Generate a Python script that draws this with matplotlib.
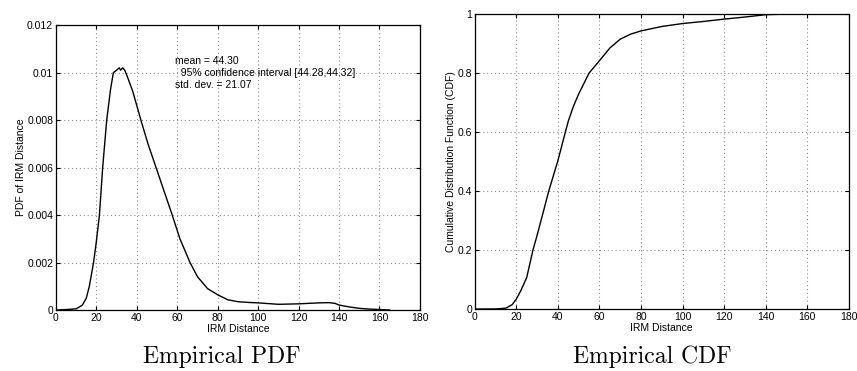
import matplotlib
matplotlib.use("Agg")
import matplotlib.pyplot as plt

# PDF values
pdf_x = [0, 5, 10, 13, 15, 16.5, 18.6, 20, 21.5, 23.1, 25.1, 27, 28.4, 30, 31.3, 32, 33, 34,
         35, 38, 40, 42, 45.5, 49.5, 53.5, 57.5, 61.3, 66.3, 70, 75, 80, 85, 90, 95, 100,
         105, 110, 115, 120, 125, 130, 135, 138, 140, 145, 150, 155, 160, 165]
pdf_y = [0, 0.00002, 0.00005, 0.0002, 0.0005, 0.001, 0.002, 0.0029, 0.004, 0.006, 0.008,
         0.0093, 0.0100, 0.0101, 0.0102, 0.0101, 0.0102, 0.0101, 0.0099, 0.0092, 0.0086,
         0.0080, 0.0070, 0.0060, 0.0050, 0.0040, 0.0030, 0.0020, 0.0014, 0.0009, 0.00064,
         0.00043, 0.00035, 0.00032, 0.0003, 0.00027, 0.00024, 0.00025, 0.00026, 0.00028,
         0.0003, 0.00031, 0.00028, 0.00021, 0.00013, 0.00007, 0.00004, 0.00002, 0]

# CDF values
cdf_x = [0, 10, 15, 18, 20, 22, 25, 28, 30, 33, 35.6, 40, 43.6, 45, 47.5, 50, 55, 60, 65,
         70, 75, 80, 90, 100, 110, 120, 130, 140, 150, 160, 180]
cdf_y = [0, 0.0003, 0.003, 0.015, 0.034, 0.06, 0.107, 0.2, 0.25, 0.33, 0.4, 0.503, 0.6,
         0.637, 0.688, 0.729, 0.8, 0.842, 0.885, 0.915, 0.932, 0.943, 0.958, 0.968, 0.975,
         0.983, 0.99, 0.998, 1.0, 1.0, 1.0]

stats_text = "mean = 44.30\n  95% confidence interval [44.28,44.32]\nstd. dev. = 21.07"

plt.rcParams["font.family"] = ["Liberation Sans", "DejaVu Sans"]
plt.rcParams["font.size"] = 7.5

fig = plt.figure(figsize=(8.57, 3.71), dpi=100)

ax1 = fig.add_axes([0.0653, 0.1644, 0.4247, 0.768])
ax1.plot(pdf_x, pdf_y, color="black", lw=1.0)
ax1.set_xlim(0, 180)
ax1.set_ylim(0, 0.012)
ax1.set_xticks(range(0, 181, 20))
ax1.set_yticks([0, 0.002, 0.004, 0.006, 0.008, 0.01, 0.012])
ax1.set_yticklabels(["0", "0.002", "0.004", "0.006", "0.008", "0.01", "0.012"])
ax1.set_xlabel("IRM Distance", labelpad=1)
ax1.set_ylabel("PDF of IRM Distance", labelpad=1)
ax1.text(59, 0.0107, stats_text, fontsize=7.5, va="top", linespacing=1.25)

ax2 = fig.add_axes([0.554, 0.167, 0.4364, 0.795])
ax2.plot(cdf_x, cdf_y, color="black", lw=1.0)
ax2.set_xlim(0, 180)
ax2.set_ylim(0, 1)
ax2.set_xticks(range(0, 181, 20))
ax2.set_yticks([0, 0.2, 0.4, 0.6, 0.8, 1])
ax2.set_yticklabels(["0", "0.2", "0.4", "0.6", "0.8", "1"])
ax2.set_xlabel("IRM Distance", labelpad=1)
ax2.set_ylabel("Cumulative Distribution Function (CDF)", labelpad=1)

for ax in (ax1, ax2):
    ax.grid(True, linestyle=(0, (1, 2.5)), color="#8c8c8c", lw=0.8)
    ax.tick_params(direction="in", top=True, right=True, length=3, pad=2)
    for s in ax.spines.values():
        s.set_linewidth(0.9)

fig.text(0.259, 1 - 357 / 371, "Empirical PDF", family=["cmr10", "DejaVu Serif"],
         fontsize=17, ha="center", va="center")
fig.text(0.761, 1 - 357 / 371, "Empirical CDF", family=["cmr10", "DejaVu Serif"],
         fontsize=17, ha="center", va="center")

fig.savefig("out.png", dpi=100)
